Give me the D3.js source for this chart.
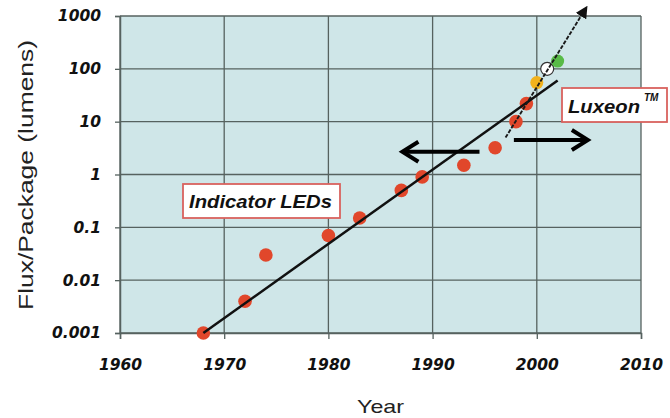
<!DOCTYPE html>
<html>
<head>
<meta charset="utf-8">
<script src="https://cdn.jsdelivr.net/npm/d3@7"></script>
<style>
  body { margin: 0; background: #ffffff; }
  svg { display: block; }
</style>
</head>
<body>
<svg id="chart" width="670" height="418"></svg>
<script>
// Indicator LED history: flux per package by year
const indicatorYears = [1968, 1972, 1974, 1980, 1983, 1987, 1989, 1993, 1996, 1998, 1999];
const indicatorFlux  = [0.001, 0.004, 0.03, 0.07, 0.15, 0.5, 0.9, 1.5, 3.2, 10, 22];

// Luxeon power LEDs
const luxeonYears  = [2000, 2001, 2002];
const luxeonFlux   = [55, 100, 140];
const luxeonColors = ["#f2b21c", "#ffffff", "#58bb47"];

// Trend lines (start and end points)
const indicatorTrendYears = [1968, 2002];
const indicatorTrendFlux  = [0.001, 60];
const luxeonTrendYears    = [1997, 2004.8];
const luxeonTrendFlux     = [5, 1500];

// Direction arrows (from, to)
const leftArrowYears  = [1994.5, 1987.1];
const leftArrowFlux   = [2.7, 2.7];
const rightArrowYears = [1997.8, 2004.9];
const rightArrowFlux  = [4.5, 4.5];

// Axis ticks
const xTicks = [1960, 1970, 1980, 1990, 2000, 2010];
const yTicks = [0.001, 0.01, 0.1, 1, 10, 100, 1000];
const yTickLabels = ["0.001", "0.01", "0.1", "1", "10", "100", "1000"];

const W = 670, H = 418;
const margin = { top: 16, right: 29, bottom: 85, left: 120 };
const innerW = W - margin.left - margin.right;
const innerH = H - margin.top - margin.bottom;

const svg = d3.select("#chart");
const g = svg.append("g").attr("transform", `translate(${margin.left},${margin.top})`);

const x = d3.scaleLinear().domain([1960, 2010]).range([0, innerW]);
const y = d3.scaleLog().domain([0.001, 1000]).range([innerH, 0]);

const gridColor = "#56625f";
const tickFont = "'DejaVu Sans', sans-serif";

// plot background
g.append("rect")
  .attr("width", innerW).attr("height", innerH)
  .attr("fill", "#cfe6e8");

// gridlines
g.append("g").selectAll("line").data(yTicks).join("line")
  .attr("x1", 0).attr("x2", innerW)
  .attr("y1", d => y(d)).attr("y2", d => y(d))
  .attr("stroke", gridColor).attr("stroke-width", 1.3);
g.append("g").selectAll("line").data(xTicks).join("line")
  .attr("y1", 0).attr("y2", innerH)
  .attr("x1", d => x(d)).attr("x2", d => x(d))
  .attr("stroke", gridColor).attr("stroke-width", 1.3);

// axes
const yAxis = g.append("g")
  .call(d3.axisLeft(y).tickValues(yTicks).tickFormat((d, i) => yTickLabels[i]).tickSize(5).tickPadding(14));
const xAxis = g.append("g")
  .attr("transform", `translate(0,${innerH})`)
  .call(d3.axisBottom(x).tickValues(xTicks).tickFormat(d3.format("d")).tickSize(6).tickPadding(20));
[yAxis, xAxis].forEach(a => {
  a.select(".domain").attr("stroke", gridColor).attr("stroke-width", 1.5);
  a.selectAll(".tick line").attr("stroke", gridColor).attr("stroke-width", 1.3);
  a.selectAll(".tick text")
    .attr("fill", "#111")
    .style("font-family", tickFont)
    .style("font-size", "15.5px")
    .style("font-weight", "bold")
    .style("font-style", "italic");
});

// data points
const red = "#e1472b";
g.append("g").selectAll("circle").data(indicatorYears).join("circle")
  .attr("cx", d => x(d))
  .attr("cy", (d, i) => y(indicatorFlux[i]))
  .attr("r", 6.8)
  .attr("fill", red);

g.append("g").selectAll("circle").data(luxeonYears).join("circle")
  .attr("cx", d => x(d))
  .attr("cy", (d, i) => y(luxeonFlux[i]))
  .attr("r", 6.5)
  .attr("fill", (d, i) => luxeonColors[i])
  .attr("stroke", (d, i) => luxeonColors[i] === "#ffffff" ? "#333" : "none")
  .attr("stroke-width", 1.2);

// indicator trend line
const line = d3.line().x(d => x(d[0])).y(d => y(d[1]));
g.append("path")
  .datum(indicatorTrendYears.map((d, i) => [d, indicatorTrendFlux[i]]))
  .attr("d", line)
  .attr("fill", "none").attr("stroke", "#111").attr("stroke-width", 2.5);

// luxeon trend line with arrowhead
svg.append("defs").append("marker")
  .attr("id", "tri")
  .attr("viewBox", "0 0 10 10")
  .attr("refX", 9).attr("refY", 5)
  .attr("markerWidth", 6.5).attr("markerHeight", 6.5)
  .attr("markerUnits", "strokeWidth")
  .attr("orient", "auto")
  .append("path").attr("d", "M0,0 L10,5 L0,10 Z").attr("fill", "#111");

g.append("path")
  .datum(luxeonTrendYears.map((d, i) => [d, luxeonTrendFlux[i]]))
  .attr("d", line)
  .attr("fill", "none").attr("stroke", "#1a1a1a").attr("stroke-width", 1.9)
  .attr("stroke-dasharray", "4,1.5")
  .attr("marker-end", "url(#tri)");

// thick direction arrows with open chevron heads
function drawArrow(years, flux) {
  const x0 = x(years[0]), y0 = y(flux[0]);
  const x1 = x(years[1]), y1 = y(flux[1]);
  const dir = Math.sign(x1 - x0);
  g.append("line")
    .attr("x1", x0).attr("y1", y0).attr("x2", x1 - dir * 2).attr("y2", y1)
    .attr("stroke", "#000").attr("stroke-width", 4);
  g.append("path")
    .attr("d", `M${x1 - dir * 16},${y1 - 10} L${x1},${y1} L${x1 - dir * 16},${y1 + 10}`)
    .attr("fill", "none").attr("stroke", "#000").attr("stroke-width", 4)
    .attr("stroke-linejoin", "miter").attr("stroke-linecap", "butt");
}
drawArrow(leftArrowYears, leftArrowFlux);
drawArrow(rightArrowYears, rightArrowFlux);

// text boxes
const boxStroke = "#d9625e";
function labelBox(bx, by, bw, bh) {
  svg.append("rect")
    .attr("x", bx).attr("y", by).attr("width", bw).attr("height", bh)
    .attr("fill", "#ffffff").attr("stroke", boxStroke).attr("stroke-width", 1.8);
}
labelBox(183, 184, 157, 34);
svg.append("text")
  .attr("x", 189).attr("y", 208)
  .attr("textLength", 143).attr("lengthAdjust", "spacingAndGlyphs")
  .style("font-family", "'Liberation Sans', Arial, sans-serif")
  .style("font-size", "18px").style("font-weight", "bold").style("font-style", "italic")
  .attr("fill", "#111")
  .text("Indicator LEDs");

labelBox(562, 88, 105, 34);
svg.append("text")
  .attr("x", 568).attr("y", 113)
  .attr("textLength", 72).attr("lengthAdjust", "spacingAndGlyphs")
  .style("font-family", "'Liberation Sans', Arial, sans-serif")
  .style("font-size", "19px").style("font-weight", "bold").style("font-style", "italic")
  .attr("fill", "#111")
  .text("Luxeon");
svg.append("text")
  .attr("x", 644).attr("y", 101)
  .style("font-family", "'Liberation Sans', Arial, sans-serif")
  .style("font-size", "10px").style("font-weight", "bold").style("font-style", "italic")
  .attr("fill", "#111")
  .text("TM");

// axis titles
svg.append("text")
  .attr("x", margin.left + innerW / 2).attr("y", 413)
  .attr("text-anchor", "middle")
  .style("font-family", "'Liberation Sans', Arial, sans-serif")
  .style("font-size", "19px")
  .attr("textLength", 47).attr("lengthAdjust", "spacingAndGlyphs")
  .attr("fill", "#222")
  .text("Year");

svg.append("text")
  .attr("transform", "translate(33,175) rotate(-90)")
  .attr("text-anchor", "middle")
  .style("font-family", "'Liberation Sans', Arial, sans-serif")
  .style("font-size", "20px")
  .attr("textLength", 270).attr("lengthAdjust", "spacingAndGlyphs")
  .attr("fill", "#222")
  .text("Flux/Package (lumens)");
</script>
</body>
</html>
